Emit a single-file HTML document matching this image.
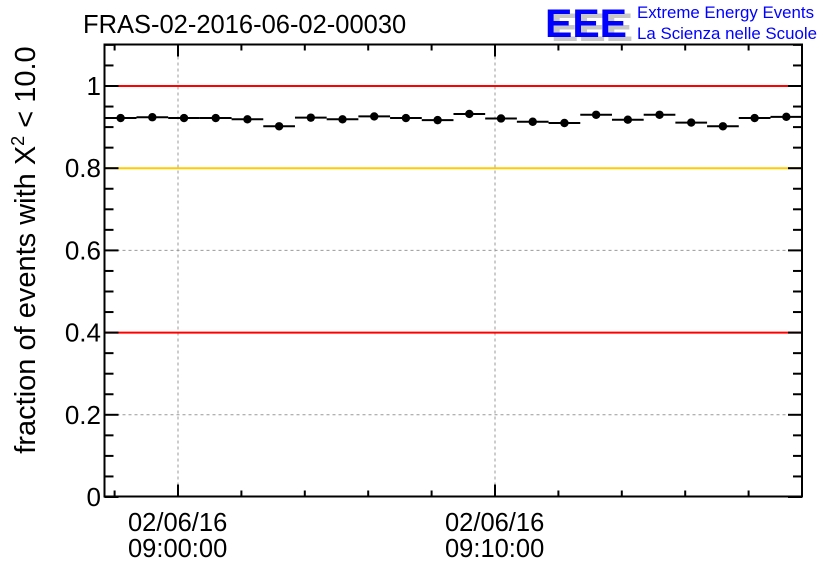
<!DOCTYPE html>
<html><head><meta charset="utf-8"><style>
html,body{margin:0;padding:0;background:#fff;}
svg{display:block;font-family:"Liberation Sans",Arial,sans-serif;}
</style></head><body>
<svg id="c" width="836" height="572" viewBox="0 0 836 572">
  <text x="83" y="33" font-size="25.5" fill="#000">FRAS-02-2016-06-02-00030</text>
  <g>
    <text x="551" y="41" font-size="40" font-weight="bold" fill="#c8c8c8" textLength="82" lengthAdjust="spacingAndGlyphs">EEE</text>
    <text x="545" y="37" font-size="40" font-weight="bold" fill="#0000ff" textLength="82" lengthAdjust="spacingAndGlyphs">EEE</text>
    <text x="637" y="18" font-size="17" fill="#0000ff" textLength="177" lengthAdjust="spacingAndGlyphs">Extreme Energy Events</text>
    <text x="637" y="39" font-size="17" fill="#0000ff" textLength="180" lengthAdjust="spacingAndGlyphs">La Scienza nelle Scuole</text>
  </g>
  <text transform="translate(35,250) rotate(-90)" text-anchor="middle" font-size="29" fill="#000">fraction of events with X<tspan dy="-11" font-size="18">2</tspan><tspan dy="11"> &lt; 10.0</tspan></text>
  <g id="grid"></g>
  <g id="refs"></g>
  <g id="axes"></g>
  <g id="marks"></g>
</svg>
<script>
const minutes = [-1.81,-0.81,0.19,1.19,2.19,3.19,4.19,5.19,6.19,7.19,8.19,9.19,10.19,11.19,12.19,13.19,14.19,15.19,16.19,17.19,18.19,19.19];
const fractions = [0.922,0.924,0.922,0.922,0.919,0.902,0.923,0.919,0.926,0.922,0.917,0.932,0.921,0.913,0.910,0.930,0.918,0.930,0.911,0.902,0.922,0.925];
const yTickValues = [0,0.2,0.4,0.6,0.8,1];
const yTickLabels = ["0","0.2","0.4","0.6","0.8","1"];
const xMajorMinutes = [0,10];
const xLabelDate = ["02/06/16","02/06/16"];
const xLabelTime = ["09:00:00","09:10:00"];
const refValues = [1.0,0.8,0.4];
const refColors = ["#ff0000","#ffcc00","#ff0000"];

const L=104.5,R=802,T=44.5,B=496.5;
const X=m=>178+m*31.7;
const Y=v=>497-v*411;
const NS='http://www.w3.org/2000/svg';
function mk(tag,attrs,parent){const e=document.createElementNS(NS,tag);for(const k in attrs)e.setAttribute(k,attrs[k]);parent.appendChild(e);return e;}
const grid=document.getElementById('grid'),refs=document.getElementById('refs'),axes=document.getElementById('axes'),marks=document.getElementById('marks');

yTickValues.forEach(v=>{if(v>0&&v<1){const g=mk('line',{x1:L,x2:R,y1:Y(v),y2:Y(v),stroke:'#999','stroke-dasharray':'3,3','stroke-width':1},grid);

}});
xMajorMinutes.forEach(m=>{const g=mk('line',{x1:X(m),x2:X(m),y1:T,y2:B,stroke:'#999','stroke-dasharray':'3,3','stroke-width':1},grid);

});

refValues.forEach((v,i)=>{const r=mk('line',{x1:L,x2:R,y1:Y(v),y2:Y(v),stroke:refColors[i],'stroke-width':2},refs);

});

const frame=mk('rect',{x:L,y:T,width:R-L,height:B-T,fill:'none',stroke:'#000','stroke-width':2},axes);



for(let k=0;k<=22;k++){const v=k*0.05;const y=Y(v);const maj=(k%4===0);const len=maj?14:9;
  const t1=mk('line',{x1:L,x2:L+len,y1:y,y2:y,stroke:'#000','stroke-width':2},axes);
  
  
  const t2=mk('line',{x1:R-len,x2:R,y1:y,y2:y,stroke:'#000','stroke-width':2},axes);
  
  }
yTickValues.forEach((v,i)=>{const t=mk('text',{x:101,y:Y(v)+9,'text-anchor':'end','font-size':26,fill:'#000'},axes);t.textContent=yTickLabels[i];

});

for(let m=-2;m<=19;m+=2){const x=X(m);if(x<L||x>R)continue;const maj=(m%10===0);const len=maj?12:6;
  const a=mk('line',{x1:x,x2:x,y1:B-len,y2:B,stroke:'#000','stroke-width':2},axes);
  
  
  const b=mk('line',{x1:x,x2:x,y1:T,y2:T+len,stroke:'#000','stroke-width':2},axes);
  
  }
xMajorMinutes.forEach((m,i)=>{const t=mk('text',{x:X(m)-50,y:531,'font-size':25.5,fill:'#000'},axes);t.textContent=xLabelDate[i];


const t2=mk('text',{x:X(m)-50,y:557,'font-size':25.5,fill:'#000'},axes);t2.textContent=xLabelTime[i];

});

minutes.forEach((m,i)=>{const x=X(m),y=Y(fractions[i]);
  const e=mk('line',{x1:x-15.85,x2:x+15.85,y1:y,y2:y,stroke:'#000','stroke-width':2},marks);
  
  
  const c=mk('circle',{cx:x,cy:y,r:4.2,fill:'#000'},marks);
  
  });
</script>
</body></html>
